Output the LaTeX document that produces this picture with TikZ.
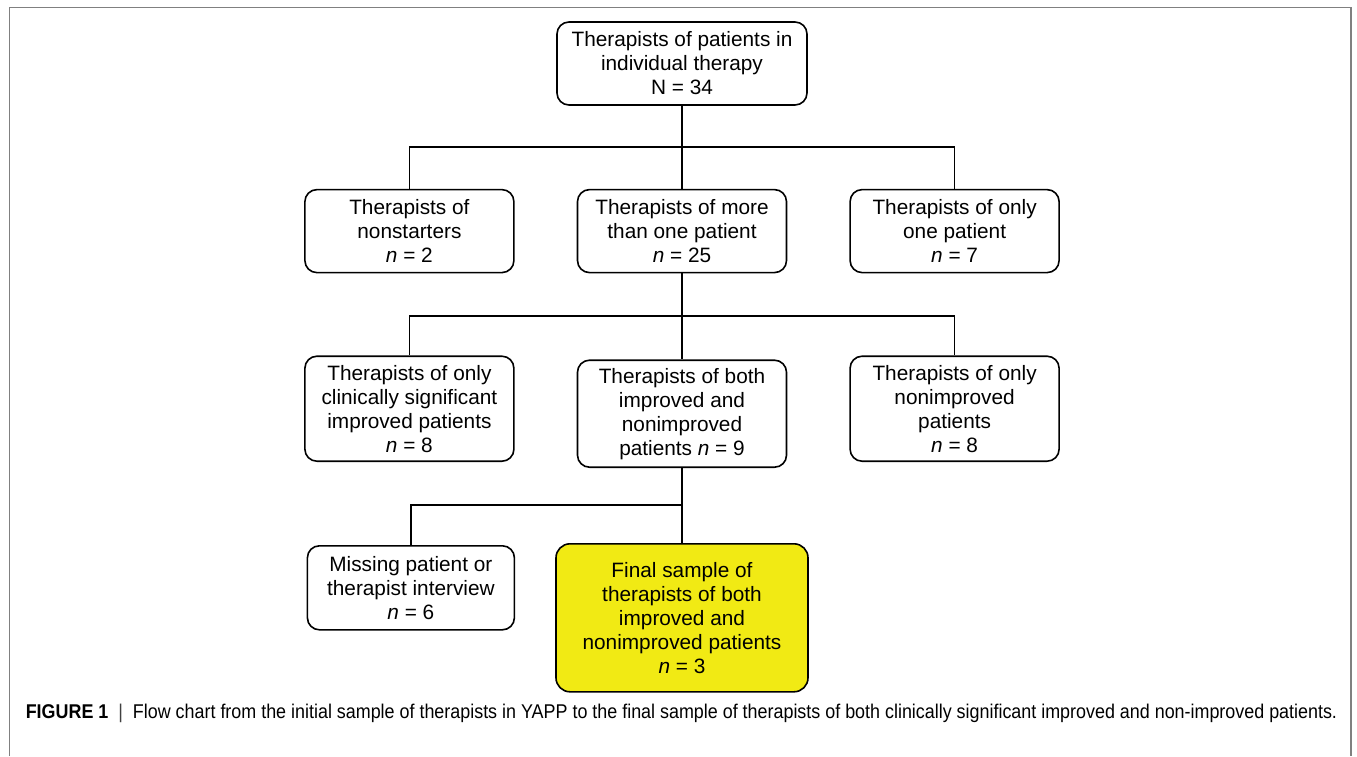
\documentclass[tikz,border=0pt]{standalone}
\usepackage{fontspec}
\setmainfont{Liberation Sans}
\newfontfamily\capfont[FakeStretch=0.9]{Liberation Sans}
\usepackage{xcolor}
\usepackage{tikz}
\usetikzlibrary{positioning}
\definecolor{finalyellow}{RGB}{241,234,20}
\definecolor{framegray}{RGB}{128,128,128}
\tikzstyle{box}  =
[
	draw,rectangle,rounded corners=12pt,line width=1.6pt,inner sep=2pt,
	minimum width=209pt, minimum height=83pt,align=center,
	font=\fontsize{20.8pt}{24pt}\selectfont
]
\tikzstyle{yellowbox} = 
[
	draw,rectangle,rounded corners=14pt,line width=1.6pt,inner sep=2pt,
	minimum width=252pt, minimum height=148pt,align=center,
	fill=finalyellow,
	font=\fontsize{20.8pt}{24pt}\selectfont
]
\begin{document}
\begin{tikzpicture}[x=1pt,y=-1pt,line width=1.6pt]
\useasboundingbox (0,0) rectangle (1357,756);
\draw[framegray,line width=1.4pt] (9.5,756) -- (9.5,7.5) -- (1351,7.5) -- (1351,756);

\node[box, minimum width=250pt](top) at (682,63.5) {Therapists of patients in\\individual therapy\\N = 34};

\node[box](more) [below=83pt of top] {Therapists of more\\than one patient\\\textit{n} = 25};
\node[box](nonstart) [left=62pt of more] {Therapists of\\nonstarters\\\textit{n} = 2};
\node[box](onlyone) [right=62pt of more] {Therapists of only\\one patient\\\textit{n} = 7};

\node[box, minimum height=107pt](bothimp) [below=86pt of more] {Therapists of both\\improved and\\nonimproved\\patients \textit{n} = 9};
\node[box, minimum height=105pt](onlysig) [left=62pt of bothimp, yshift=5pt] {Therapists of only\\clinically significant\\improved patients\\\textit{n} = 8};
\node[box, minimum height=105pt](onlynon) [right=62pt of bothimp, yshift=5pt] {Therapists of only\\nonimproved\\patients\\\textit{n} = 8};

\node[yellowbox](final) [below=75pt of bothimp] {Final sample of\\therapists of both\\improved and\\nonimproved patients\\\textit{n} = 3};
\node[box, minimum width=207pt, minimum height=84pt](missing) [left=40pt of final, yshift=30pt] {Missing patient or\\therapist interview\\\textit{n} = 6};

\coordinate (j1) at (682,147);
\coordinate (j2) at (682,316);
\coordinate (j3) at (682,505);
%
\draw (top.south) -- (j1);
\draw (j1) -- (more.north);
\draw (nonstart.north) |- (j1) -| (onlyone.north);

\draw (more.south) -- (bothimp.north);
\draw (onlysig.north) |- (j2) -| (onlynon.north);

\draw (bothimp.south) -- (final.north);
\draw (missing.north) |- (j3);

\node[anchor=base west, inner sep=0pt, font=\capfont\fontsize{19.9pt}{22pt}\selectfont](caption) at (25,718)
	{\textbf{FIGURE 1}\enspace{\color{black!75}|}\enspace Flow chart from the initial sample of therapists in YAPP to the final sample of therapists of both clinically significant improved and non-improved patients.};

\end{tikzpicture}
\end{document}
